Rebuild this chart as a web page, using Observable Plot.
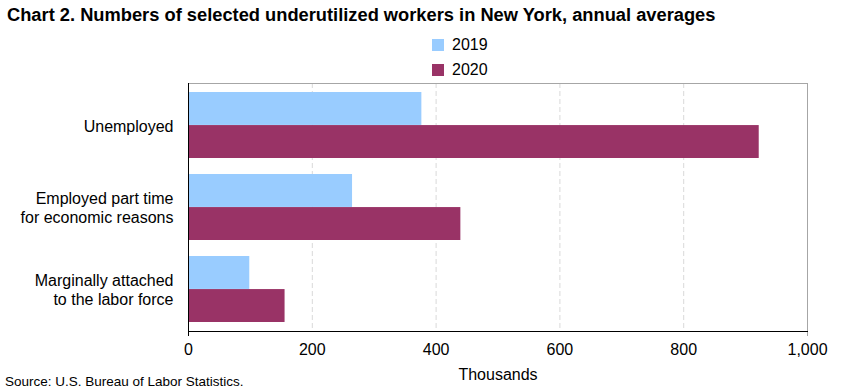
<!DOCTYPE html>
<html>
<head>
<meta charset="utf-8">
<script src="https://cdn.jsdelivr.net/npm/d3@7"></script>
<script src="https://cdn.jsdelivr.net/npm/@observablehq/plot@0.6"></script>
<style>
  html, body { margin: 0; padding: 0; background: #fff; }
  #wrap { position: relative; width: 841px; height: 391px; font-family: "Liberation Sans", Arial, sans-serif; color: #000; overflow: hidden; }
  #title { position: absolute; left: 7px; top: 6px; font-size: 18.3px; line-height: 18.3px; font-weight: bold; white-space: nowrap; }
  .leg { position: absolute; left: 432px; height: 12px; display: flex; align-items: center; font-size: 16px; line-height: 12px; }
  .leg span.sw { display: inline-block; width: 12px; height: 12px; margin-right: 8px; }
  #source { position: absolute; left: 5px; top: 375px; font-size: 13.5px; line-height: 13.5px; white-space: nowrap; }
  #chart { position: absolute; left: 0; top: 0; }
</style>
</head>
<body>
<div id="wrap">
  <div id="chart"></div>
  <div id="title">Chart 2. Numbers of selected underutilized workers in New York, annual averages</div>
  <div id="legend"></div>
  <div id="source">Source: U.S. Bureau of Labor Statistics.</div>
</div>
<script>
const categories = [
  "Unemployed",
  "Employed part time\nfor economic reasons",
  "Marginally attached\nto the labor force"
];
const years = ["2019", "2020"];
const values2019 = [377, 265, 99];
const values2020 = [922, 440, 156];
const xTicks = [0, 200, 400, 600, 800, 1000];
const colors = ["#99CCFF", "#993366"];

const data2019 = categories.map((c, i) => ({category: c, year: years[0], value: values2019[i]}));
const data2020 = categories.map((c, i) => ({category: c, year: years[1], value: values2020[i]}));

// legend
const legend = document.getElementById("legend");
years.forEach((y, i) => {
  const d = document.createElement("div");
  d.className = "leg";
  d.style.top = (39 + i * 25) + "px";
  d.innerHTML = `<span class="sw" style="background:${colors[i]}"></span><span>${y}</span>`;
  legend.appendChild(d);
});

const W = 841, H = 391, mT = 83, mB = 60, mL = 188, mR = 34;
const padIn = 0.2, padOut = 0.1;
// half of the band width, so each category band holds the two years' bars
const step = (H - mT - mB) / (categories.length - padIn + 2 * padOut);
const half = step * (1 - padIn) / 2;

const chart = Plot.plot({
  width: W,
  height: H,
  marginTop: mT,
  marginBottom: mB,
  marginLeft: mL,
  marginRight: mR,
  style: {fontFamily: '"Liberation Sans", Arial, sans-serif', fontSize: "16px", color: "#000", background: "#fff"},
  x: {domain: [xTicks[0], xTicks[xTicks.length - 1]]},
  y: {domain: categories, paddingInner: padIn, paddingOuter: padOut},
  color: {domain: years, range: colors},
  marks: [
    Plot.gridX({ticks: xTicks.slice(1, -1), stroke: "#d9d9d9", strokeOpacity: 1, strokeDasharray: "5,3"}),
    Plot.barX(data2019, {y: "category", x: "value", fill: "year", insetBottom: half}),
    Plot.barX(data2020, {y: "category", x: "value", fill: "year", insetTop: half}),
    Plot.frame({stroke: "#a6a6a6"}),
    Plot.ruleX([xTicks[xTicks.length - 1]], {stroke: "#a6a6a6", insetBottom: -5}),
    Plot.ruleX([xTicks[0]], {stroke: "#000", insetBottom: -5}),
    Plot.frame({anchor: "bottom", stroke: "#000"}),
    Plot.axisX({ticks: xTicks, tickFormat: d3.format(","), tickSize: 0, tickPadding: 12, fontSize: 16,
      label: "Thousands", labelAnchor: "center", labelArrow: "none", labelOffset: 48}),
    Plot.axisY({tickSize: 0, tickPadding: 15, fontSize: 16, lineHeight: 1.2, label: null, textAnchor: "end"})
  ]
});
document.getElementById("chart").appendChild(chart);
</script>
</body>
</html>
